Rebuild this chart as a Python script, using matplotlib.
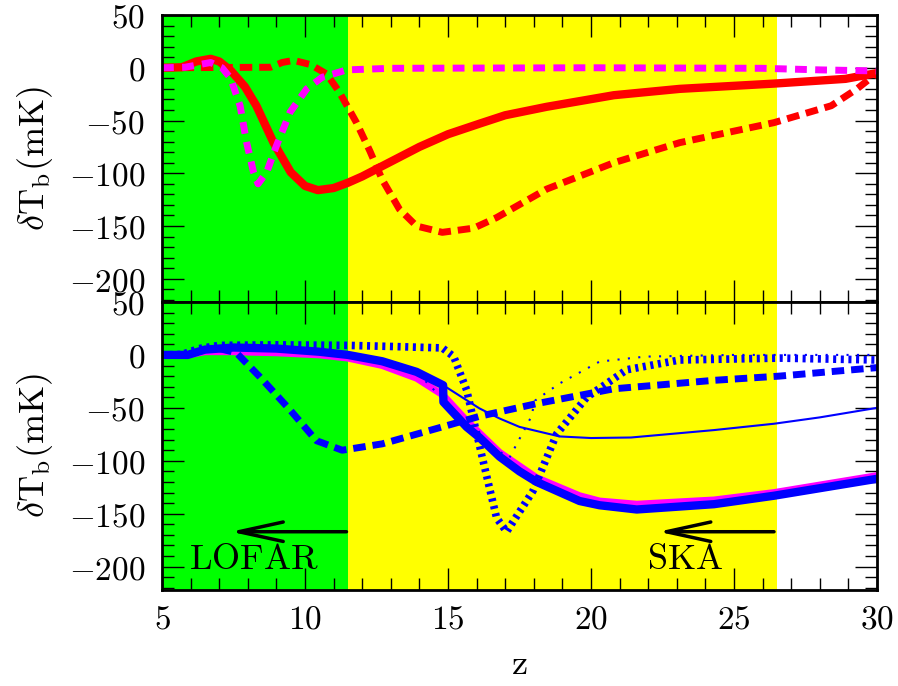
import matplotlib
matplotlib.use('Agg')
import matplotlib.pyplot as plt
from matplotlib.ticker import MultipleLocator, FuncFormatter

plt.rcParams['mathtext.fontset'] = 'cm'
plt.rcParams['font.family'] = 'serif'

# ---- data ----
# top panel
z_red = [5, 5.7, 6.2, 6.7, 7.0, 7.4, 7.9, 8.3, 8.9, 9.5, 10.0, 10.45, 11.0, 11.5,
         12.0, 13.0, 14.0, 15.0, 16.1, 17.0, 18.45, 20.8, 23.1, 26.4, 28.9, 30]
red_solid = [0, 0.5, 6, 8.5, 6, -2.5, -18, -36, -71, -99, -112, -116, -114, -109,
             -103, -89, -75, -63, -53, -45, -37, -26, -20, -15, -10.5, -5]

z_red_dash = [5, 8.8, 9.2, 9.6, 10.2, 10.76, 11.2, 11.8, 12.27, 12.7, 13.3, 13.9,
              14.8, 15.9, 16.7, 18.45, 20.8, 23.1, 26.4, 28.4, 29.3, 30]
red_dash = [0, 0.5, 5, 7, 3, -6, -23, -52, -79, -106, -134, -150,
            -156, -152, -142, -115, -90, -71, -52, -36, -20, -5]

z_mag_dash = [5, 5.8, 6.7, 7.1, 7.4, 7.73, 7.96, 8.2, 8.36, 8.66, 9.0, 9.48,
              10.06, 10.6, 11.46, 13, 20, 26, 28, 30]
mag_dash = [0, 0.5, 5, 0, -10, -36, -71, -99, -110, -99, -74, -42,
            -20, -9, -2, -0.5, 0, -0.5, -2, -3]

# bottom panel
z_blue = [5, 5.9, 6.5, 7.5, 9, 10.5, 11.5, 12.7, 13.9, 14.83, 14.84, 15.65, 16.1,
          16.8, 17.5, 18.1, 19.6, 20.3, 21.6, 24.3, 26.4, 30]
blue_thick = [0, 0, 5, 7, 6, 3, 0, -6, -16, -28.6, -44.5, -68, -78,
              -96, -110, -120, -138, -142, -146, -141, -133, -117]

z_mag = [5, 5.9, 6.5, 7.5, 9, 10.5, 11.5, 12.7, 13.9, 14.83, 15.65, 16.8, 18.1,
         19.6, 20.3, 21.6, 24.3, 26.4, 30]
mag_solid = [0, 0, 3, 3, 2, 0, -3, -10, -22, -38, -62, -92, -116,
             -133, -138, -141, -137, -130, -114]

z_thin = [5, 5.9, 6.5, 7.5, 9, 10.5, 11.5, 12.7, 13.9, 14.83, 16.1, 16.8, 17.5,
          18.9, 20, 21.4, 24.3, 26.4, 28, 30]
blue_thin = [0, 0, 5, 7, 6, 3, 0, -6, -16, -28.6, -50.5, -60, -68,
             -77, -78.5, -78, -71, -65, -59, -50]

z_bdash = [5, 5.9, 6.5, 7.0, 7.6, 8.43, 9.48, 10.4, 11.3, 12.7, 14.8, 16.1, 18.1,
           20.8, 24.3, 26.6, 30]
blue_dash = [0, 0, 5, 6, 2, -21, -52, -81, -90, -84, -68, -58, -46,
             -32, -24, -20, -12]

z_bdot = [5, 5.7, 6.3, 7, 9, 11.5, 13, 14.8, 15.2, 15.65, 16.2, 16.7, 17.05,
          17.97, 18.8, 19.85, 21.25, 23.1, 26.6, 30]
blue_dot = [0, 0.5, 6, 9, 9.5, 9, 8, 6.6, -1.6, -33, -97, -154, -167,
            -128.6, -74.6, -40, -14, -4.8, -3, -4.8]

z_tdot = [5, 5.9, 6.5, 7.5, 9, 10.5, 11.5, 12.7, 13.9, 14.83, 15.65, 16.4, 17.15,
          17.9, 18.05, 18.9, 20.3, 21.9, 25, 30]
blue_tdot = [0, 0, 5, 7, 6, 3, 0, -6, -16, -42, -68, -85, -97,
             -59, -43, -27, -6.3, -1.6, 0, 0]

lofar_band = (5, 11.5)
ska_band = (11.5, 26.5)

# ---- figure ----
fig = plt.figure(figsize=(8.98, 6.86), dpi=100)
ax1 = fig.add_axes([0.1804, 0.5598, 0.7962, 0.4183])
ax2 = fig.add_axes([0.1804, 0.140, 0.7962, 0.4198])

fmt = FuncFormatter(lambda v, p: r'$%d$' % v)

for ax in (ax1, ax2):
    ax.axvspan(*lofar_band, color='#00ff00', lw=0, zorder=0)
    ax.axvspan(*ska_band, color='#ffff00', lw=0, zorder=0)
    ax.set_xlim(5, 30)
    ax.set_ylim(-222, 50)
    ax.xaxis.set_major_locator(MultipleLocator(5))
    ax.xaxis.set_minor_locator(MultipleLocator(1))
    ax.yaxis.set_major_locator(MultipleLocator(50))
    ax.yaxis.set_minor_locator(MultipleLocator(10))
    ax.tick_params(which='both', direction='in', top=True, right=True,
                   width=1, labelsize=24)
    ax.tick_params(which='major', length=16)
    ax.tick_params(which='minor', length=8.5)
    ax.tick_params(axis='y', pad=12)
    ax.tick_params(axis='x', pad=10)
    ax.xaxis.set_major_formatter(fmt)
    ax.yaxis.set_major_formatter(fmt)
    for s in ax.spines.values():
        s.set_linewidth(2)
    ax.set_ylabel(r'$\delta\mathrm{T_b(mK)}$', fontsize=26, labelpad=10)

ax1.tick_params(labelbottom=False)

# top panel curves
ax1.plot(z_red, red_solid, color='#ff0000', lw=6)
ax1.plot(z_red_dash, red_dash, color='#ff0000', lw=5, ls=(0, (1.8, 1.0)))
ax1.plot(z_mag_dash, mag_dash, color='#ff00ff', lw=5, ls=(0, (1.7, 1.2)))

# bottom panel curves
ax2.plot(z_mag, mag_solid, color='#ff00ff', lw=5)
ax2.plot(z_blue, blue_thick, color='#0000ff', lw=6)
ax2.plot(z_thin, blue_thin, color='#0000ff', lw=1.5)
ax2.plot(z_bdash, blue_dash, color='#0000ff', lw=5, ls=(0, (1.8, 1.0)))
ax2.plot(z_bdot, blue_dot, color='#0000ff', lw=5.5, ls=(0, (0.4, 0.6)))
ax2.plot(z_tdot, blue_tdot, color='#0000ff', lw=1.5, ls=(0, (1, 4)))

arrow = dict(arrowstyle='->,head_length=1.6,head_width=0.35', lw=2.5,
             color='black', shrinkA=0, shrinkB=0, mutation_scale=20)
ax2.annotate('', xy=(7.4, -167), xytext=(11.45, -167), arrowprops=arrow)
ax2.annotate('', xy=(22.35, -167), xytext=(26.4, -167), arrowprops=arrow)
ax2.text(8.2, -193, r'$\mathrm{LOFAR}$', fontsize=26, ha='center', va='center')
ax2.text(23.3, -193, r'$\mathrm{SKA}$', fontsize=26, ha='center', va='center')

ax2.set_xlabel(r'$\mathrm{z}$', fontsize=26, labelpad=8)

fig.savefig('out.png', dpi=100)
